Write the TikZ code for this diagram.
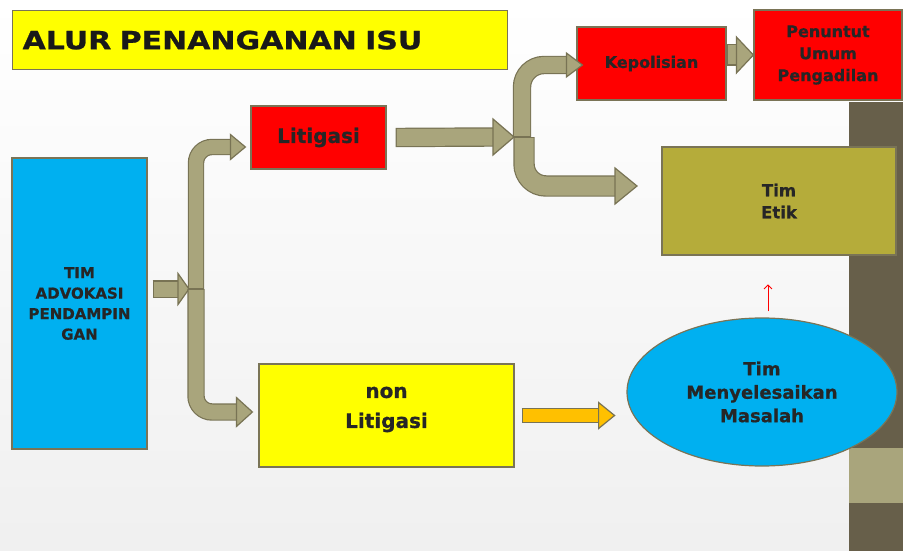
\documentclass[tikz,border=0pt]{standalone}
\usepackage{fontspec}
\setmainfont{DejaVu Sans}[BoldFeatures={FakeBold=0.8}]
\newfontfamily\titlefont[FakeStretch=1.2,FakeBold=1,WordSpace=2]{DejaVu Sans Bold}
\usetikzlibrary{shapes.geometric,arrows.meta,positioning,calc}

% cabeza de flecha de bloque: [relleno]{punta}{largo}{media anchura}
\newcommand\bhead[4][pipefill]{%
  \filldraw[draw=pipeline, line width=1.2pt, fill=#1, line join=miter] #2 -- ++(-#3,#4) -- ++(0,{-2*#4}) -- cycle;}
\newcommand\fsz[2]{\bfseries\fontsize{#1}{#2}\selectfont}

\begin{document}
\begin{tikzpicture}[x=1pt, y=-1pt]
	% --- Colores ---
	\definecolor{cyanbox}{RGB}{0,176,240}
	\definecolor{redbox}{RGB}{255,0,0}
	\definecolor{yellowbox}{RGB}{255,255,0}
	\definecolor{etikbox}{RGB}{181,172,58}
	\definecolor{boxline}{RGB}{122,116,86}
	\definecolor{pipefill}{RGB}{169,165,124}
	\definecolor{pipeline}{RGB}{120,115,84}
	\definecolor{orangefill}{RGB}{255,192,0}
	\definecolor{stripdark}{RGB}{103,95,74}
	\definecolor{textdark}{RGB}{38,38,38}

	\tikzset{
		box/.style={draw=boxline, line width=1.2pt, inner sep=0pt, align=center, text=textdark},
		pipe/.style={draw=pipefill, line width=#1, rounded corners=16pt, shorten <=1.2pt,
			preaction={draw=pipeline, line width={#1+2.4pt}, shorten <=0pt}},
	}

	\useasboundingbox (0,0) rectangle (903,551);

	% --- Fondo ---
	\shade[top color=white, middle color=white, bottom color=black!6] (0,0) rectangle (903,551);
	\fill[stripdark] (849,102) rectangle (903,551);
	\fill[pipefill] (849,448) rectangle (903,503);

	% --- Titulo ---
	\node[box, anchor=north west, minimum width=495pt, minimum height=59pt, text width=475pt,
		align=left, fill=yellowbox, text=black!90, font=\titlefont\fontsize{25}{30}\selectfont]
		(title) at (12,10) {ALUR PENANGANAN ISU};

	% --- Cajas ---
	\node[box, fill=cyanbox, minimum width=135pt, minimum height=291pt, font=\fsz{15}{20.5}]
		(adv) at (79.5,303.5) {TIM\\ADVOKASI\\PENDAMPIN\\GAN};
	\node[box, fill=redbox, minimum width=135pt, minimum height=63pt, font=\fsz{20}{24}]
		(lit) at (318.5,137.5) {Litigasi};
	\node[box, fill=yellowbox, minimum width=255pt, minimum height=103pt,
		label={[align=center, font=\fsz{20}{30}, text=textdark, yshift=6pt]center:non\\Litigasi}]
		(nonlit) at (386.5,415.5) {};
	\node[box, fill=redbox, minimum width=149pt, minimum height=73pt, font=\fsz{16}{20}]
		(kep) at (651.5,63.5) {Kepolisian};
	\node[box, fill=redbox, minimum width=148pt, minimum height=90pt, font=\fsz{16}{22}]
		(jpu) at (828,55) {Penuntut\\Umum\\Pengadilan};
	\node[box, fill=etikbox, minimum width=234pt, minimum height=108pt, font=\fsz{16.5}{22}]
		(etik) at (779,201) {Tim\\Etik};
	\node[box, ellipse, fill=cyanbox, minimum width=270pt, minimum height=148pt, font=\fsz{18}{23.5}]
		(tms) at (762,392) {Tim\\Menyelesaikan\\Masalah};

	% --- Puntos de cruce ---
	\coordinate (jl) at (196,289);
	\coordinate (jr) at (522,137);
	\coordinate (tlit) at ([xshift=-5pt,yshift=-9.5pt]lit.west);
	\coordinate (tnon) at ([xshift=-6pt,yshift=3.5pt]nonlit.west);
	\coordinate (tkep) at ([xshift=6pt,yshift=-1.5pt]kep.west);
	\coordinate (tetik) at (637,186);

	% --- Flechas ---
	\draw[pipe=15pt] ([xshift=5pt]adv.east |- jl) -- ([xshift=-17pt]jl);
	\bhead{([xshift=-7pt]jl)}{11}{15.5}
	\draw[pipe=14pt] (jl) |- ([xshift=-14pt]tlit);
	\bhead{(tlit)}{15}{12.5}
	\draw[pipe=15pt] (jl) |- ([xshift=-15pt]tnon);
	\bhead{(tnon)}{16}{14.5}

	\draw[pipe=17pt] ([xshift=9pt]lit.east) -- ([xshift=-28pt]jr);
	\bhead{([xshift=-8pt]jr)}{21}{18}
	\draw[pipe=16pt, rounded corners=22pt] (jr) |- ([xshift=-15pt]tkep);
	\bhead{(tkep)}{16}{12}
	\draw[pipe=19pt, rounded corners=22pt] ([xshift=2pt]jr) |- ([xshift=-22pt]tetik);
	\bhead{(tetik)}{22}{18}

	\draw[pipe=19pt] (kep.east |- jpu.west) -- ([xshift=-16pt]jpu.west);
	\bhead{(jpu.west)}{17}{18}

	\draw[pipe=13pt, draw=orangefill] ([xshift=7pt]nonlit.east) -- ([xshift=85pt]nonlit.east);
	\bhead[orangefill]{([xshift=100pt]nonlit.east)}{16}{13}

	\draw[red, line width=0.8pt, -{Straight Barb[length=4pt,width=8pt]}]
		([xshift=6pt,yshift=6pt]tms.north) -- ([xshift=6pt,yshift=33pt]tms.north);
\end{tikzpicture}
\end{document}
